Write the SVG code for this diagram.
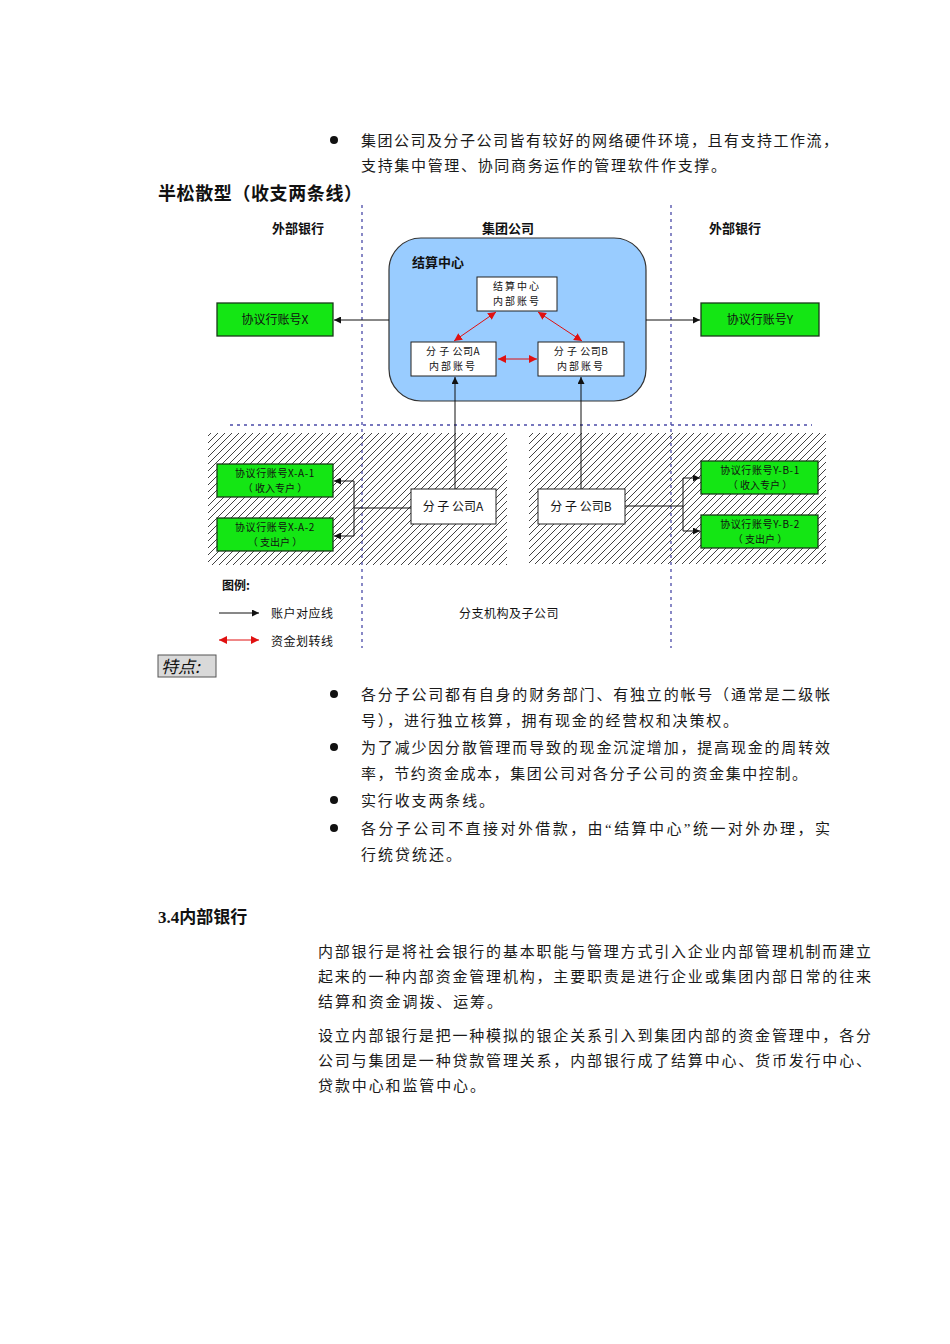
<svg xmlns="http://www.w3.org/2000/svg" width="950" height="1344" viewBox="0 0 950 1344">
<style>
.body{font-family:"Liberation Serif","Noto Sans CJK SC",serif;font-size:15px;fill:#1a1a1a}
.head{font-family:"Liberation Serif","Noto Sans CJK SC",serif;font-weight:bold;fill:#111}
.lbl{font-family:"Noto Sans CJK SC",sans-serif;font-size:13px;font-weight:bold;fill:#111}
.bx{font-family:"Noto Sans CJK SC",sans-serif;font-size:12px;fill:#111}
.b2{font-family:"Noto Sans CJK SC",sans-serif;font-size:10px;fill:#111}
.wbox{fill:#fff;stroke:#222;stroke-width:1}
.gbox{fill:#14e614;stroke:#1a3a1a;stroke-width:1.3}
.div{stroke:#4a4aa8;stroke-width:1.3;stroke-dasharray:3,4;fill:none}
.cn{stroke:#111;stroke-width:1;fill:none}
.rd{stroke:#e01010;stroke-width:1;fill:none}
</style>
<defs>
<pattern id="hatch" patternUnits="userSpaceOnUse" width="7" height="7">
<path d="M-1,1 L1,-1 M0,7 L7,0 M6,8 L8,6" stroke="#111" stroke-width="0.8"/>
</pattern>
<marker id="ab" viewBox="0 0 10 10" refX="10" refY="5" markerWidth="7" markerHeight="7" orient="auto-start-reverse" markerUnits="userSpaceOnUse">
<path d="M0,0 L10,5 L0,10 z" fill="#111"/>
</marker>
<marker id="ar" viewBox="0 0 10 10" refX="10" refY="5" markerWidth="8" markerHeight="8" orient="auto-start-reverse" markerUnits="userSpaceOnUse">
<path d="M0,0 L10,5 L0,10 z" fill="#e01010"/>
</marker>
</defs>

<rect width="950" height="1344" fill="#fff"/>

<g id="intro">
<circle cx="334" cy="140" r="4" fill="#111"/>
<text class="body" x="361" y="146" textLength="477" lengthAdjust="spacing">集团公司及分子公司皆有较好的网络硬件环境，且有支持工作流，</text>
<text class="body" x="361" y="171" textLength="365" lengthAdjust="spacing">支持集中管理、协同商务运作的管理软件作支撑。</text>
<text class="head" x="158" y="200" font-size="18" textLength="204" lengthAdjust="spacing">半松散型（收支两条线）</text>
</g>

<g id="hatch-left"><rect x="208" y="433" width="299" height="132" fill="url(#hatch)"/></g>
<g id="hatch-right"><rect x="529" y="433" width="297" height="131" fill="url(#hatch)"/></g>

<g id="dividers">
<line class="div" x1="362" y1="205" x2="362" y2="648"/>
<line class="div" x1="671" y1="205" x2="671" y2="648"/>
<line class="div" x1="230" y1="425" x2="812" y2="425"/>
</g>

<g id="col-labels">
<text class="lbl" x="298" y="233" text-anchor="middle">外部银行</text>
<text class="lbl" x="508" y="233" text-anchor="middle">集团公司</text>
<text class="lbl" x="735" y="233" text-anchor="middle">外部银行</text>
</g>

<g id="settle-center">
<rect x="389" y="238" width="257" height="163" rx="32" ry="32" fill="#99ccff" stroke="#333" stroke-width="1.2"/>
<text class="lbl" x="412" y="267">结算中心</text>
</g>

<g id="node-sc-acct">
<rect class="wbox" x="477" y="277" width="80" height="34"/>
<text class="b2" x="517" y="290" text-anchor="middle" letter-spacing="2">结算中心</text>
<text class="b2" x="517" y="305" text-anchor="middle" letter-spacing="2">内部账号</text>
</g>
<g id="node-a-acct">
<rect class="wbox" x="411" y="342" width="85" height="34"/>
<text class="b2" x="453" y="355" text-anchor="middle" letter-spacing="0.5">分 子 公司A</text>
<text class="b2" x="453" y="370" text-anchor="middle" letter-spacing="2">内部账号</text>
</g>
<g id="node-b-acct">
<rect class="wbox" x="538" y="342" width="86" height="34"/>
<text class="b2" x="581" y="355" text-anchor="middle" letter-spacing="0.5">分 子 公司B</text>
<text class="b2" x="581" y="370" text-anchor="middle" letter-spacing="2">内部账号</text>
</g>

<g id="node-x">
<rect class="gbox" x="217" y="303" width="116" height="33"/>
<text class="bx" x="275" y="324" text-anchor="middle">协议行账号X</text>
</g>
<g id="node-y">
<rect class="gbox" x="701" y="303" width="118" height="33"/>
<text class="bx" x="760" y="324" text-anchor="middle">协议行账号Y</text>
</g>

<g id="node-a">
<rect class="wbox" x="411" y="489" width="85" height="35"/>
<text class="bx" x="453" y="511" text-anchor="middle">分 子 公司A</text>
</g>
<g id="node-b">
<rect class="wbox" x="538" y="489" width="87" height="35"/>
<text class="bx" x="581" y="511" text-anchor="middle">分 子 公司B</text>
</g>

<g id="node-xa1">
<rect class="gbox" x="217" y="464" width="116" height="33"/>
<text class="b2" x="275" y="477" text-anchor="middle" letter-spacing="0.6">协议行账号X-A-1</text>
<text class="b2" x="275" y="492" text-anchor="middle">（ 收入专户 ）</text>
</g>
<g id="node-xa2">
<rect class="gbox" x="217" y="518" width="116" height="33"/>
<text class="b2" x="275" y="531" text-anchor="middle" letter-spacing="0.6">协议行账号X-A-2</text>
<text class="b2" x="275" y="546" text-anchor="middle">（ 支出户 ）</text>
</g>
<g id="node-yb1">
<rect class="gbox" x="701" y="461" width="117" height="33"/>
<text class="b2" x="760" y="474" text-anchor="middle" letter-spacing="0.6">协议行账号Y-B-1</text>
<text class="b2" x="760" y="489" text-anchor="middle">（ 收入专户 ）</text>
</g>
<g id="node-yb2">
<rect class="gbox" x="701" y="515" width="117" height="33"/>
<text class="b2" x="760" y="528" text-anchor="middle" letter-spacing="0.6">协议行账号Y-B-2</text>
<text class="b2" x="760" y="543" text-anchor="middle">（ 支出户 ）</text>
</g>

<g id="connectors">
<line class="cn" x1="389" y1="320" x2="334" y2="320" marker-end="url(#ab)"/>
<line class="cn" x1="646" y1="320" x2="700" y2="320" marker-end="url(#ab)"/>
<line class="cn" x1="455" y1="489" x2="455" y2="377" marker-end="url(#ab)"/>
<line class="cn" x1="581" y1="489" x2="581" y2="377" marker-end="url(#ab)"/>
<polyline class="cn" points="411,508 354,508"/>
<line class="cn" x1="354" y1="481" x2="354" y2="536"/>
<line class="cn" x1="354" y1="481" x2="334" y2="481" marker-end="url(#ab)"/>
<line class="cn" x1="354" y1="536" x2="334" y2="536" marker-end="url(#ab)"/>
<polyline class="cn" points="625,506 683,506"/>
<line class="cn" x1="683" y1="478" x2="683" y2="531"/>
<line class="cn" x1="683" y1="478" x2="700" y2="478" marker-end="url(#ab)"/>
<line class="cn" x1="683" y1="531" x2="700" y2="531" marker-end="url(#ab)"/>
<line class="rd" x1="496" y1="312" x2="454" y2="341" marker-start="url(#ar)" marker-end="url(#ar)"/>
<line class="rd" x1="538" y1="312" x2="582" y2="341" marker-start="url(#ar)" marker-end="url(#ar)"/>
<line class="rd" x1="498" y1="359" x2="537" y2="359" marker-start="url(#ar)" marker-end="url(#ar)"/>
</g>

<g id="legend">
<text class="bx" x="222" y="590" font-weight="bold">图例:</text>
<line class="cn" x1="219" y1="613" x2="259" y2="613" marker-end="url(#ab)"/>
<text class="bx" x="271" y="618" letter-spacing="0.5">账户对应线</text>
<line class="rd" x1="219" y1="640" x2="259" y2="640" stroke-width="1.4" marker-start="url(#ar)" marker-end="url(#ar)"/>
<text class="bx" x="271" y="646" letter-spacing="0.5">资金划转线</text>
<text class="bx" x="509" y="618" text-anchor="middle" letter-spacing="0.5">分支机构及子公司</text>
</g>

<g id="features-tag">
<rect x="158" y="655" width="58" height="22" fill="#d9d9d9" stroke="#555" stroke-width="1"/>
<text x="161" y="673" font-family="Noto Sans CJK SC,sans-serif" font-size="17" font-style="italic" fill="#111">特点:</text>
</g>

<g id="bullets">
<circle cx="334" cy="694" r="4" fill="#111"/>
<text class="body" x="361" y="700" textLength="469" lengthAdjust="spacing">各分子公司都有自身的财务部门、有独立的帐号（通常是二级帐</text>
<text class="body" x="361" y="726" textLength="377" lengthAdjust="spacing">号），进行独立核算，拥有现金的经营权和决策权。</text>
<circle cx="334" cy="747" r="4" fill="#111"/>
<text class="body" x="361" y="753" textLength="469" lengthAdjust="spacing">为了减少因分散管理而导致的现金沉淀增加，提高现金的周转效</text>
<text class="body" x="361" y="779" textLength="446" lengthAdjust="spacing">率，节约资金成本，集团公司对各分子公司的资金集中控制。</text>
<circle cx="334" cy="800" r="4" fill="#111"/>
<text class="body" x="361" y="806" textLength="133" lengthAdjust="spacing">实行收支两条线。</text>
<circle cx="334" cy="828" r="4" fill="#111"/>
<text class="body" x="361" y="834" textLength="469" lengthAdjust="spacing">各分子公司不直接对外借款，由“结算中心”统一对外办理，实</text>
<text class="body" x="361" y="860" textLength="100" lengthAdjust="spacing">行统贷统还。</text>
</g>

<g id="section-3-4">
<text class="head" x="158" y="923" font-size="17">3.4内部银行</text>
<text class="body" x="318" y="957" textLength="553" lengthAdjust="spacing">内部银行是将社会银行的基本职能与管理方式引入企业内部管理机制而建立</text>
<text class="body" x="318" y="982" textLength="553" lengthAdjust="spacing">起来的一种内部资金管理机构，主要职责是进行企业或集团内部日常的往来</text>
<text class="body" x="318" y="1007" textLength="184" lengthAdjust="spacing">结算和资金调拨、运筹。</text>
<text class="body" x="318" y="1041" textLength="553" lengthAdjust="spacing">设立内部银行是把一种模拟的银企关系引入到集团内部的资金管理中，各分</text>
<text class="body" x="318" y="1066" textLength="553" lengthAdjust="spacing">公司与集团是一种贷款管理关系，内部银行成了结算中心、货币发行中心、</text>
<text class="body" x="318" y="1091" textLength="167" lengthAdjust="spacing">贷款中心和监管中心。</text>
</g>
</svg>
